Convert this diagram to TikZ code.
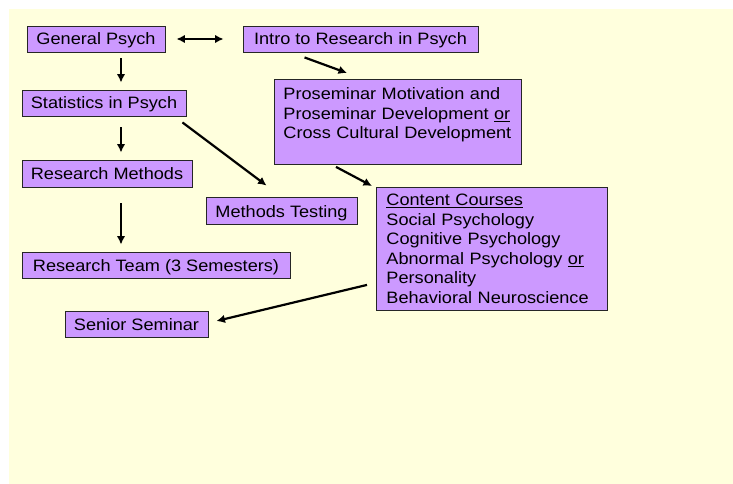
\documentclass[tikz,border=0pt]{standalone}
\usepackage{fontspec}
\setmainfont[FakeStretch=1.1]{Liberation Sans}
\usetikzlibrary{arrows.meta}
\definecolor{paper}{RGB}{255,255,221}
\definecolor{course}{RGB}{204,153,255}
\tikzset{
  block/.style={draw=black!85,line width=0.9pt,fill=course,
    font=\fontsize{16.5}{19.5}\selectfont,inner sep=0pt},
  box/.style={block,text height=12pt,text depth=0pt},
  link/.style={->,line width=2.2pt}
}
\begin{document}
\begin{tikzpicture}[x=1pt,y=-1pt,>={Latex[length=8.5pt,width=8.5pt]}]
\useasboundingbox (0,0) rectangle (733,484);
\fill[paper] (9,9) rectangle (733,484);
\coordinate (spine) at (121,0);
\node[box,minimum width=138pt,minimum height=26pt] (general) at (96,39) {General Psych};
\node[box,minimum width=235pt,minimum height=26pt] (intro) at (360.5,39) {Intro to Research in Psych};
\node[box,minimum width=164pt,minimum height=26pt] (stats) at (104,103) {Statistics in Psych};
\node[box,minimum width=170pt,minimum height=27pt] (methods) at (107,173.5) {Research Methods};
\node[box,minimum width=268pt,minimum height=26pt] (team) at (156,265) {Research Team (3 Semesters)};
\node[box,minimum width=143pt,minimum height=26pt] (senior) at (136.5,324) {Senior Seminar};
\node[box,minimum width=151pt,minimum height=27pt] (testing) at (281.5,211) {Methods Testing};
\node[block,anchor=north west,inner xsep=9pt,text width=229pt,align=left,minimum height=85pt]
  (prosem) at (274,79) {Proseminar Motivation and\\Proseminar Development \underline{or}\\Cross Cultural Development\\[-8pt] \strut};
\node[block,anchor=north west,inner xsep=10pt,text width=211pt,align=left,minimum height=123pt]
  (content) at (376,187) {\underline{Content Courses}\\Social Psychology\\Cognitive Psychology\\
  Abnormal Psychology \underline{or}\\Personality\\Behavioral Neuroscience};
\draw[<->,line width=2.2pt,shorten <=11pt,shorten >=19pt] (general.east) -- (intro.west);
\draw[link,shorten <=6pt,shorten >=7pt] (general.south -| spine) -- (stats.north -| spine);
\draw[link,shorten <=11pt,shorten >=7pt] (stats.south -| spine) -- (methods.north -| spine);
\draw[link,shorten <=16pt,shorten >=7pt] (methods.south -| spine) -- (team.north -| spine);
\draw[link] ([shift={(62,5)}]intro.south west) -- ([shift={(73,-6)}]prosem.north west);
\draw[link] ([shift={(-4,6)}]stats.south east) -- ([shift={(61,-11.5)}]testing.north west);
\draw[link] ([shift={(62,2)}]prosem.south west) -- ([shift={(-4,-1)}]content.north west);
\draw[link] ([shift={(-9,-26)}]content.south west) -- ([shift={(8,-3)}]senior.east);
\end{tikzpicture}
\end{document}
